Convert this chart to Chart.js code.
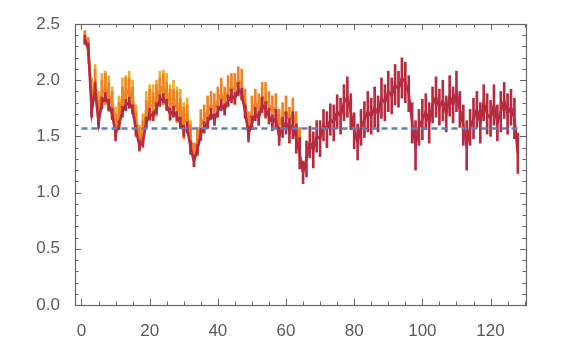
<!DOCTYPE html>
<html>
<head>
<meta charset="utf-8">
<script src="https://cdn.jsdelivr.net/npm/chart.js@4/dist/chart.umd.min.js"></script>
<style>
html,body{margin:0;padding:0;background:#fff;}
#wrap{width:575px;height:337px;}
</style>
</head>
<body>
<div id="wrap"><canvas id="c" width="575" height="337"></canvas></div>
<script>
const xTicks = [0, 20, 40, 60, 80, 100, 120];
const yTicks = [0, 0.5, 1.0, 1.5, 2.0, 2.5];
const refValue = 1.57;
const refRange = [0, 128];

const redVals = [
2.36,2.28,1.72,1.92,1.62,1.80,1.85,1.78,1.70,1.52,1.60,1.72,1.78,1.80,1.74,1.55,
1.42,1.45,1.62,1.70,1.68,1.75,1.82,1.84,1.78,1.70,1.72,1.68,1.62,1.55,1.58,1.40,
1.28,1.38,1.52,1.58,1.62,1.70,1.65,1.72,1.78,1.74,1.82,1.86,1.84,1.92,1.88,1.72,
1.52,1.62,1.70,1.66,1.78,1.74,1.68,1.62,1.66,1.50,1.58,1.62,1.55,1.60,1.48,1.35,
1.18,1.30,1.45,1.38,1.50,1.48,1.60,1.56,1.65,1.62,1.72,1.68,1.80,1.85,1.72,1.55,
1.45,1.58,1.65,1.72,1.68,1.76,1.70,1.84,1.80,1.90,1.86,1.96,1.92,2.02,1.98,1.88,
1.62,1.42,1.58,1.65,1.72,1.62,1.78,1.85,1.76,1.82,1.70,1.86,1.78,1.90,1.74,1.60,
1.42,1.58,1.66,1.74,1.62,1.80,1.70,1.66,1.78,1.62,1.72,1.82,1.70,1.76,1.66,1.35];
const redErr = [
0.04,0.05,0.05,0.06,0.05,0.05,0.04,0.05,0.05,0.06,0.04,0.05,0.05,0.05,0.04,0.05,
0.05,0.04,0.05,0.05,0.04,0.05,0.05,0.04,0.05,0.05,0.05,0.04,0.05,0.05,0.05,0.06,
0.05,0.05,0.05,0.05,0.05,0.05,0.05,0.05,0.05,0.05,0.05,0.06,0.05,0.06,0.05,0.06,
0.07,0.06,0.06,0.06,0.07,0.07,0.07,0.07,0.08,0.08,0.09,0.10,0.11,0.12,0.13,0.14,
0.10,0.16,0.14,0.16,0.14,0.16,0.14,0.16,0.14,0.16,0.15,0.16,0.16,0.18,0.16,0.16,
0.16,0.16,0.16,0.18,0.16,0.18,0.16,0.18,0.16,0.18,0.16,0.18,0.16,0.18,0.18,0.16,
0.18,0.22,0.16,0.18,0.16,0.18,0.16,0.18,0.16,0.18,0.16,0.18,0.16,0.18,0.16,0.18,
0.22,0.16,0.18,0.16,0.18,0.16,0.18,0.16,0.18,0.16,0.18,0.16,0.18,0.16,0.18,0.18];

const orangeVals = [
2.38,2.30,1.80,1.96,1.72,1.88,1.92,1.86,1.78,1.60,1.68,1.82,1.88,1.90,1.82,1.62,
1.48,1.52,1.70,1.78,1.77,1.82,1.90,1.92,1.86,1.78,1.80,1.76,1.72,1.62,1.66,1.48,
1.34,1.46,1.60,1.66,1.72,1.78,1.74,1.82,1.88,1.82,1.90,1.94,1.92,2.00,1.96,1.80,
1.60,1.72,1.80,1.74,1.86,1.82,1.78,1.72,1.76,1.60,1.68,1.72,1.64,1.70,1.60,1.46];
const orangeErr = [
0.06,0.08,0.12,0.14,0.10,0.12,0.14,0.12,0.12,0.10,0.12,0.12,0.14,0.12,0.12,0.10,
0.10,0.12,0.12,0.14,0.12,0.14,0.12,0.14,0.12,0.14,0.12,0.14,0.12,0.14,0.12,0.12,
0.10,0.12,0.14,0.12,0.14,0.12,0.14,0.12,0.14,0.12,0.14,0.12,0.14,0.12,0.14,0.12,
0.12,0.14,0.12,0.14,0.12,0.16,0.12,0.14,0.12,0.14,0.12,0.14,0.12,0.14,0.12,0.12];

const yellowVals = [
2.38,2.25,1.88,1.98,1.78,1.90,1.94,1.88,1.80,1.64,1.72,1.86,1.90,1.92,1.86,1.66,
1.50,1.56,1.74,1.82,1.80,1.86,1.92,1.95,1.90,1.82,1.84,1.80,1.76,1.66,1.70,1.52];
const yellowErr = [
0.06,0.10,0.14,0.16,0.12,0.16,0.14,0.16,0.14,0.12,0.14,0.16,0.14,0.16,0.14,0.12,
0.10,0.14,0.16,0.14,0.16,0.14,0.16,0.14,0.16,0.14,0.16,0.14,0.16,0.14,0.14,0.12];

const RED = '#B52B40', ORANGE = '#EE8225', YELLOW = '#E9AD2B', BLUE = '#5C80B8';
const AXIS = '#666666';

function pts(vals){ return vals.map((v,i)=>({x:i+1, y:v})); }
function errs(vals, e){ return vals.map((v,i)=>({x:i+1, y:[v-e[i], v+e[i]]})); }

function lineDS(vals, color, order, w){
  return {type:'line', data:pts(vals), borderColor:color, borderWidth:w,
    pointRadius:0, tension:0, order:order, borderJoinStyle:'miter'};
}
function barDS(vals, e, color, order){
  return {type:'bar', data:errs(vals,e), backgroundColor:color, borderWidth:0,
    barThickness:2, grouped:false, order:order};
}

const framePlugin = {
  id:'frame',
  afterDraw(chart){
    const {ctx, chartArea:a, scales:{x, y}} = chart;
    ctx.save();
    ctx.strokeStyle = AXIS;
    ctx.lineWidth = 1.2;
    ctx.strokeRect(a.left+0.5, a.top+0.5, a.right-a.left, a.bottom-a.top);
    ctx.lineWidth = 1;
    ctx.beginPath();
    for(let v=0; v<=130; v+=5){
      const px = Math.round(x.getPixelForValue(v))+0.5;
      const L = (v%20===0)?6:3.5;
      ctx.moveTo(px, a.bottom); ctx.lineTo(px, a.bottom-L);
      ctx.moveTo(px, a.top); ctx.lineTo(px, a.top+L);
    }
    for(let k=0; k<=25; k++){
      const v = k/10;
      const py = Math.round(y.getPixelForValue(v))+0.5;
      const L = (k%5===0)?6:3.5;
      ctx.moveTo(a.left, py); ctx.lineTo(a.left+L, py);
      ctx.moveTo(a.right, py); ctx.lineTo(a.right-L, py);
    }
    ctx.stroke();
    ctx.restore();
  }
};

new Chart(document.getElementById('c'), {
  type:'line',
  data:{datasets:[
    {type:'line', data:[{x:refRange[0], y:refValue},{x:refRange[1], y:refValue}],
      borderColor:BLUE, borderWidth:2.4, borderDash:[6,4], pointRadius:0, order:0},
    barDS(redVals, redErr, RED, 1),
    lineDS(redVals, RED, 1, 2.6),
    barDS(orangeVals, orangeErr, ORANGE, 2),
    lineDS(orangeVals, ORANGE, 2, 2.5),
    barDS(yellowVals, yellowErr, YELLOW, 3),
    lineDS(yellowVals, YELLOW, 3, 2.5)
  ]},
  options:{
    responsive:false, animation:false,
    layout:{padding:{top:24, right:49, left:0, bottom:0}},
    plugins:{legend:{display:false}, tooltip:{enabled:false}},
    scales:{
      x:{type:'linear', min:-1.9, max:130.4, offset:false,
        grid:{display:false}, border:{display:false},
        afterBuildTicks(s){ s.ticks = xTicks.map(v=>({value:v})); },
        afterFit(s){ s.height = 32; },
        ticks:{color:'#5a5a5a', font:{family:'Liberation Sans', size:17}, padding:8,
          maxRotation:0, autoSkip:false, callback:(v)=>String(v)}},
      y:{type:'linear', min:0, max:2.5,
        grid:{display:false}, border:{display:false},
        afterBuildTicks(s){ s.ticks = yTicks.map(v=>({value:v})); },
        afterFit(s){ s.width = 75; },
        ticks:{color:'#5a5a5a', font:{family:'Liberation Sans', size:17}, padding:7,
          autoSkip:false, callback:(v)=>Number(v).toFixed(1)}}
    }
  },
  plugins:[framePlugin]
});
</script>
</body>
</html>
